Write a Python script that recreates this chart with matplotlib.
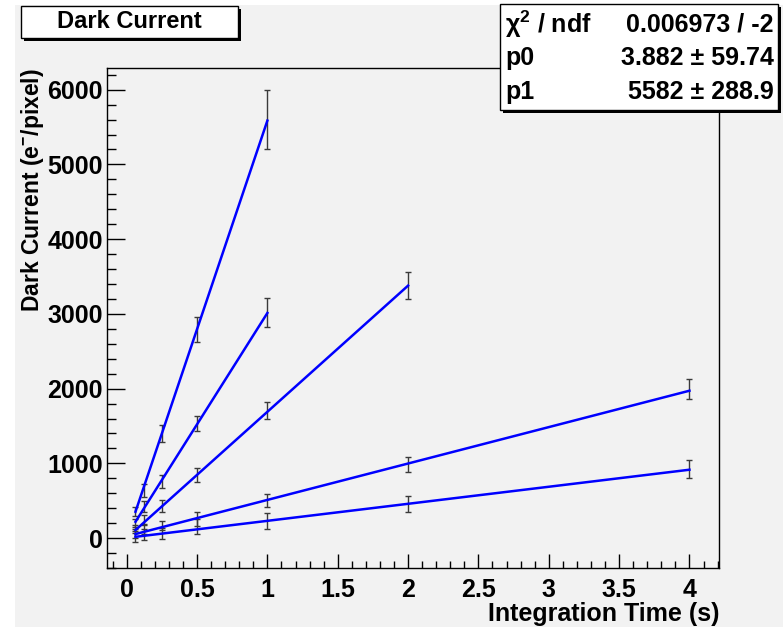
import matplotlib
matplotlib.use("Agg")
import matplotlib.pyplot as plt
from matplotlib.patches import Rectangle
from matplotlib.ticker import MultipleLocator
import numpy as np

plt.rcParams["font.family"] = ["Liberation Sans", "DejaVu Sans"]
plt.rcParams["font.weight"] = "bold"
plt.rcParams["mathtext.fontset"] = "custom"
plt.rcParams["mathtext.rm"] = "Liberation Sans:bold"
plt.rcParams["mathtext.bf"] = "Liberation Sans:bold"
plt.rcParams["mathtext.it"] = "Liberation Sans:italic"

# integration times (s)
t_short = [0.0625, 0.125, 0.25, 0.5, 1]
t_mid = [0.0625, 0.125, 0.25, 0.5, 1, 2]
t_long = [0.0625, 0.125, 0.25, 0.5, 1, 2, 4]

# dark current (e-/pixel) and errors, one list per series
dc_1 = [350, 640, 1400, 2790, 5600]
err_1 = [60, 90, 110, 170, 400]
dc_2 = [200, 420, 760, 1530, 3020]
err_2 = [50, 70, 85, 100, 195]
dc_3 = [120, 250, 430, 845, 1710, 3380]
err_3 = [55, 65, 80, 90, 110, 185]
dc_4 = [60, 120, 170, 255, 500, 980, 1990]
err_4 = [60, 60, 60, 90, 90, 100, 135]
dc_5 = [20, 50, 60, 150, 230, 460, 920]
err_5 = [70, 70, 70, 100, 110, 110, 120]

# linear fit results p0 + p1*t
fit_p0 = [3.882, 32, 2, 24, 3]
fit_p1 = [5582, 2980, 1688, 487, 228]

series = [
    (t_short, dc_1, err_1),
    (t_short, dc_2, err_2),
    (t_mid, dc_3, err_3),
    (t_long, dc_4, err_4),
    (t_long, dc_5, err_5),
]

W, H = 783, 627
bg = "#f2f2f2"

fig = plt.figure(figsize=(W / 100, H / 100), dpi=100)
fig.patch.set_facecolor("white")
fig.add_artist(Rectangle((15 / W, 0), 1 - 15 / W, 1 - 5 / H,
                         transform=fig.transFigure, facecolor=bg,
                         edgecolor="none", zorder=-10))

ax = fig.add_axes([107 / W, 1 - 568 / H, (719 - 107) / W, (568 - 68) / H])
ax.set_facecolor(bg)

for (t, dc, err), p0, p1 in zip(series, fit_p0, fit_p1):
    ax.errorbar(t, dc, yerr=err, fmt="none", ecolor="#3a3a3a",
                elinewidth=1, capsize=2.2, capthick=1, zorder=2)
    tf = np.array([t[0], t[-1]])
    ax.plot(tf, p0 + p1 * tf, color="#0000ff", lw=1.8, zorder=3)

ax.set_xlim(-0.14, 4.21)
ax.set_ylim(-400, 6290)

ax.xaxis.set_major_locator(MultipleLocator(0.5))
ax.xaxis.set_minor_locator(MultipleLocator(0.1))
ax.yaxis.set_major_locator(MultipleLocator(1000))
ax.yaxis.set_minor_locator(MultipleLocator(200))
ax.set_xticks(np.arange(0, 4.01, 0.5))
ax.set_xticklabels(["0", "0.5", "1", "1.5", "2", "2.5", "3", "3.5", "4"])

ax.tick_params(axis="both", which="both", direction="in",
               top=False, right=False, width=1, labelsize=18)
ax.tick_params(axis="y", which="major", length=13, pad=3)
ax.tick_params(axis="y", which="minor", length=6.5)
ax.tick_params(axis="x", which="major", length=10, pad=7)
ax.tick_params(axis="x", which="minor", length=5)
for lab in ax.get_xticklabels() + ax.get_yticklabels():
    lab.set_fontweight("bold")
for sp in ax.spines.values():
    sp.set_linewidth(1)

ax.set_xlabel("Integration Time (s)", loc="right", fontsize=18,
              fontweight="bold", labelpad=0)
ax.set_ylabel("Dark Current (e$^{-}$/pixel)", loc="top", fontsize=16.5,
              fontweight="bold", labelpad=1)

# title box
fig.add_artist(Rectangle((24 / W, 1 - 41 / H), 217 / W, 32 / H,
                         transform=fig.transFigure, facecolor="black",
                         edgecolor="none", zorder=5))
fig.add_artist(Rectangle((21 / W, 1 - 38 / H), 217 / W, 32 / H,
                         transform=fig.transFigure, facecolor="white",
                         edgecolor="black", lw=1, zorder=6))
fig.text(129.5 / W, 1 - 22 / H, "Dark Current", ha="center", va="center",
         fontsize=17, fontweight="bold", zorder=7)

# stats box
fig.add_artist(Rectangle((503 / W, 1 - 113 / H), 278 / W, 106 / H,
                         transform=fig.transFigure, facecolor="black",
                         edgecolor="none", zorder=5))
fig.add_artist(Rectangle((500 / W, 1 - 110 / H), 278 / W, 106 / H,
                         transform=fig.transFigure, facecolor="white",
                         edgecolor="black", lw=1, zorder=6))
stat_names = ["χ$^{2}$ / ndf", "p0", "p1"]
stat_vals = ["0.006973 / -2", "3.882 ± 59.74", "5582 ± 288.9"]
for i, (nm, vl) in enumerate(zip(stat_names, stat_vals)):
    yy = 1 - (24 + 34 * i) / H
    fig.text(505 / W, yy, nm, ha="left", va="center", fontsize=18,
             fontweight="bold", zorder=7)
    fig.text(774 / W, yy, vl, ha="right", va="center", fontsize=18,
             fontweight="bold", zorder=7)

fig.savefig("out.png", dpi=100, facecolor=fig.get_facecolor())
